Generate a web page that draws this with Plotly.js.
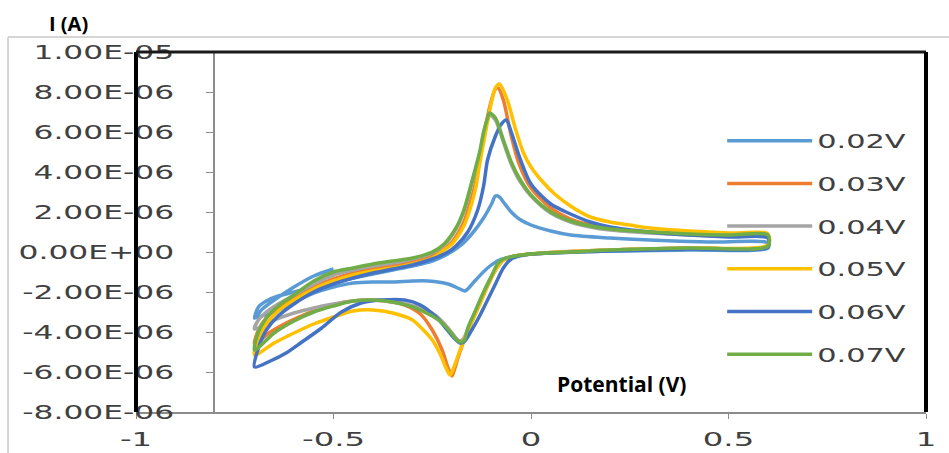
<!DOCTYPE html>
<html>
<head>
<meta charset="utf-8">
<script src="https://cdn.plot.ly/plotly-3.0.1.min.js"></script>
<style>html,body{margin:0;padding:0;background:#fff;}#chart{width:949px;height:453px;}</style>
</head>
<body>
<div id="chart"></div>
<script>
// ---- data (current in microamperes, potential in volts) ----
const seriesNames = ['0.02V', '0.03V', '0.04V', '0.05V', '0.06V', '0.07V'];
const seriesColors = ['#5B9BD5', '#ED7D31', '#A5A5A5', '#FFC000', '#4472C4', '#70AD47'];

const x002 = [-0.5,-0.55,-0.6,-0.65,-0.68,-0.7,-0.69,-0.67,-0.64,-0.6,-0.55,-0.5,-0.45,-0.4,-0.35,-0.3,-0.25,-0.22,-0.18,-0.15,-0.12,-0.1,-0.09,-0.08,-0.07,-0.05,-0.03,0,0.05,0.1,0.2,0.3,0.45,0.6,
  0.6,0.4,0.2,0,-0.04,-0.08,-0.11,-0.14,-0.16,-0.168,-0.18,-0.21,-0.26,-0.3,-0.35,-0.4,-0.45,-0.5,-0.55,-0.6,-0.65,-0.7];
const y002 = [-0.85,-1.2,-1.75,-2.4,-2.85,-3.3,-2.75,-2.45,-2.2,-2.0,-1.75,-1.5,-1.3,-1.1,-0.9,-0.7,-0.45,-0.2,0.3,0.9,1.7,2.4,2.8,2.75,2.5,2.0,1.65,1.35,1.05,0.85,0.7,0.6,0.5,0.45,
  0.2,0.1,0.05,-0.1,-0.2,-0.4,-0.8,-1.4,-1.85,-1.95,-1.85,-1.6,-1.45,-1.45,-1.5,-1.5,-1.55,-1.75,-2.05,-2.5,-3.0,-3.3];

const x003 = [-0.7,-0.69,-0.67,-0.64,-0.6,-0.55,-0.5,-0.45,-0.4,-0.35,-0.3,-0.25,-0.22,-0.2,-0.17,-0.155,-0.14,-0.13,-0.115,-0.1,-0.09,-0.083,-0.07,-0.05,-0.03,0,0.05,0.1,0.15,0.2,0.3,0.4,0.5,0.6,
  0.6,0.4,0.2,0,-0.04,-0.07,-0.09,-0.11,-0.13,-0.15,-0.17,-0.185,-0.195,-0.2,-0.21,-0.225,-0.25,-0.28,-0.32,-0.37,-0.42,-0.47,-0.52,-0.57,-0.62,-0.66,-0.7];
const y003 = [-4.6,-3.9,-3.3,-2.75,-2.25,-1.75,-1.35,-1.05,-0.85,-0.7,-0.5,-0.2,0.15,0.5,1.5,2.4,3.5,4.7,6.3,7.6,8.15,8.2,7.6,5.8,4.4,3.2,2.2,1.65,1.35,1.15,1.0,0.9,0.85,0.8,
  0.3,0.2,0.1,-0.1,-0.2,-0.4,-0.9,-1.7,-2.6,-3.5,-4.45,-5.3,-5.95,-6.2,-5.8,-4.9,-3.9,-3.1,-2.65,-2.45,-2.4,-2.5,-2.75,-3.1,-3.55,-4.0,-4.6];

const x004 = [-0.7,-0.69,-0.67,-0.64,-0.6,-0.55,-0.5,-0.45,-0.4,-0.35,-0.3,-0.25,-0.22,-0.19,-0.17,-0.15,-0.13,-0.12,-0.11,-0.104,-0.09,-0.07,-0.05,-0.03,0,0.05,0.1,0.15,0.2,0.3,0.4,0.5,0.6,
  0.6,0.4,0.2,0,-0.04,-0.07,-0.09,-0.11,-0.13,-0.15,-0.17,-0.18,-0.19,-0.21,-0.24,-0.28,-0.33,-0.4,-0.45,-0.5,-0.55,-0.6,-0.65,-0.7];
const y004 = [-3.85,-3.4,-3.0,-2.6,-2.15,-1.6,-1.15,-0.9,-0.7,-0.55,-0.35,-0.05,0.35,1.15,2.0,3.4,4.9,5.9,6.6,6.85,6.6,5.5,4.4,3.6,2.8,1.95,1.5,1.25,1.1,0.95,0.85,0.8,0.8,
  0.3,0.2,0.1,-0.1,-0.2,-0.4,-0.9,-1.6,-2.5,-3.4,-4.3,-4.45,-4.3,-3.8,-3.2,-2.8,-2.55,-2.4,-2.45,-2.6,-2.8,-3.05,-3.4,-3.85];

const x005 = [-0.7,-0.69,-0.67,-0.64,-0.6,-0.55,-0.5,-0.45,-0.4,-0.35,-0.3,-0.25,-0.22,-0.2,-0.17,-0.155,-0.14,-0.13,-0.115,-0.1,-0.09,-0.08,-0.06,-0.04,-0.02,0,0.03,0.06,0.1,0.15,0.2,0.25,0.3,0.4,0.5,0.6,
  0.6,0.4,0.2,0,-0.04,-0.07,-0.09,-0.11,-0.13,-0.15,-0.17,-0.185,-0.198,-0.205,-0.215,-0.23,-0.25,-0.28,-0.3,-0.35,-0.4,-0.45,-0.5,-0.55,-0.6,-0.65,-0.7];
const y005 = [-5.15,-4.3,-3.6,-2.95,-2.4,-1.85,-1.45,-1.15,-0.95,-0.8,-0.6,-0.3,0.1,0.4,1.3,2.1,3.2,4.4,6.0,7.5,8.2,8.4,7.6,6.2,5.0,4.25,3.5,2.9,2.3,1.75,1.5,1.35,1.2,1.05,0.95,0.9,
  0.35,0.2,0.1,-0.1,-0.2,-0.4,-0.9,-1.7,-2.6,-3.5,-4.4,-5.2,-5.9,-6.15,-5.8,-5.1,-4.4,-3.75,-3.4,-3.05,-2.9,-2.95,-3.25,-3.6,-4.05,-4.55,-5.15];

const x006 = [-0.7,-0.69,-0.67,-0.64,-0.6,-0.55,-0.5,-0.45,-0.4,-0.35,-0.3,-0.25,-0.21,-0.19,-0.16,-0.135,-0.12,-0.11,-0.09,-0.075,-0.063,-0.05,-0.03,0,0.05,0.1,0.15,0.2,0.3,0.4,0.5,0.6,
  0.6,0.4,0.2,0.05,0,-0.03,-0.05,-0.07,-0.09,-0.11,-0.13,-0.15,-0.17,-0.18,-0.195,-0.22,-0.24,-0.28,-0.32,-0.38,-0.43,-0.48,-0.53,-0.58,-0.62,-0.66,-0.7];
const y006 = [-5.75,-4.8,-3.9,-3.2,-2.6,-2.0,-1.6,-1.3,-1.05,-0.85,-0.65,-0.35,0.0,0.3,1.0,2.1,3.3,4.6,5.8,6.4,6.6,6.0,4.8,3.4,2.4,1.9,1.5,1.25,1.0,0.85,0.75,0.7,
  0.25,0.15,0.05,-0.05,-0.1,-0.2,-0.35,-0.8,-1.6,-2.4,-3.2,-3.9,-4.5,-4.55,-4.3,-3.7,-3.25,-2.65,-2.4,-2.4,-2.55,-3.0,-3.8,-4.5,-5.05,-5.45,-5.75];

const x007 = [-0.7,-0.69,-0.67,-0.64,-0.6,-0.55,-0.5,-0.45,-0.4,-0.35,-0.3,-0.25,-0.22,-0.19,-0.17,-0.15,-0.13,-0.12,-0.11,-0.105,-0.09,-0.07,-0.05,-0.03,0,0.05,0.1,0.15,0.2,0.3,0.4,0.5,0.6,
  0.6,0.4,0.2,0.1,0,-0.04,-0.07,-0.085,-0.1,-0.12,-0.14,-0.16,-0.17,-0.18,-0.19,-0.2,-0.225,-0.25,-0.3,-0.35,-0.4,-0.45,-0.5,-0.55,-0.6,-0.65,-0.7];
const y007 = [-4.9,-4.0,-3.3,-2.7,-2.15,-1.45,-1.0,-0.8,-0.6,-0.45,-0.3,0.0,0.4,1.2,2.1,3.5,5.0,6.0,6.7,6.95,6.7,5.6,4.5,3.7,2.85,2.0,1.55,1.3,1.15,1.0,0.9,0.85,0.85,
  0.3,0.2,0.1,0.0,-0.1,-0.2,-0.35,-0.6,-1.2,-2.0,-2.9,-3.8,-4.45,-4.5,-4.35,-4.1,-3.55,-3.2,-2.75,-2.5,-2.4,-2.45,-2.7,-3.0,-3.45,-4.05,-4.9];

const seriesX = [x002, x003, x004, x005, x006, x007];
const seriesY = [y002, y003, y004, y005, y006, y007];

const xTickVals = [-1, -0.5, 0, 0.5, 1];
const xTickText = ['-1', '-0.5', '0', '0.5', '1'];
const yTickVals = [-8, -6, -4, -2, 0, 2, 4, 6, 8, 10];
const yTickText = ['-8.00E-06', '-6.00E-06', '-4.00E-06', '-2.00E-06', '0.00E+00', '2.00E-06', '4.00E-06', '6.00E-06', '8.00E-06', '1.00E-05'];

// ---- chart ----
const tickFont = {family: 'DejaVu Sans', size: 19, color: '#404040'};
const traces = seriesNames.map((name, i) => ({
  type: 'scatter', mode: 'lines', name: name,
  x: seriesX[i], y: seriesY[i],
  legendgroup: 'g' + i,
  line: {color: seriesColors[i], width: 3.5, shape: 'spline', smoothing: 0.8}
}));

const layout = {
  width: 949, height: 453,
  margin: {l: 136, r: 23, t: 52, b: 41},
  paper_bgcolor: '#ffffff', plot_bgcolor: '#ffffff',
  showlegend: true,
  legend: {
    x: 0.742, xanchor: 'left', y: 0.806, yanchor: 'top',
    bgcolor: 'rgba(0,0,0,0)', font: tickFont,
    traceorder: 'grouped', tracegroupgap: 15, itemwidth: 85
  },
  xaxis: {
    range: [-1, 1], tickvals: xTickVals, ticktext: xTickText,
    showline: true, linecolor: '#8c8c8c', linewidth: 1.5,
    ticks: 'outside', ticklen: 5, tickcolor: '#8c8c8c',
    showgrid: false, zeroline: false, tickfont: tickFont, ticklabelstandoff: 5
  },
  yaxis: {
    range: [-8, 10], tickvals: yTickVals, ticktext: yTickText,
    anchor: 'free', position: 0.0975,
    showline: true, linecolor: '#8c8c8c', linewidth: 1.5,
    ticks: 'outside', ticklen: 7, tickcolor: '#8c8c8c',
    showgrid: false, zeroline: false, tickfont: tickFont, ticklabelstandoff: 28
  },
  shapes: [
    {type: 'line', xref: 'paper', yref: 'paper', x0: 0, x1: 0, y0: 0, y1: 1, line: {color: '#000000', width: 4}},
    {type: 'line', xref: 'paper', yref: 'paper', x0: 0, x1: 1, y0: 1, y1: 1, line: {color: '#1a1a1a', width: 3}},
    {type: 'line', xref: 'paper', yref: 'paper', x0: 1, x1: 1, y0: 0, y1: 1, line: {color: '#000000', width: 4}},
    {type: 'line', xref: 'paper', yref: 'paper', x0: -0.162, x1: 1.03, y0: 1.042, y1: 1.042, line: {color: '#c8c8c8', width: 1.5}},
    {type: 'line', xref: 'paper', yref: 'paper', x0: -0.162, x1: -0.162, y0: -0.12, y1: 1.042, line: {color: '#c8c8c8', width: 1.5}}
  ],
  annotations: [
    {text: 'I (A)', xref: 'paper', yref: 'paper', x: -0.086, y: 1.078, showarrow: false,
     xanchor: 'center', yanchor: 'middle', font: {family: 'Open Sans', size: 20, color: '#000000', weight: 700}},
    {text: 'Potential (V)', xref: 'paper', yref: 'paper', x: 0.614, y: 0.078, showarrow: false,
     xanchor: 'center', yanchor: 'middle', font: {family: 'Open Sans', size: 21, color: '#000000', weight: 700}}
  ]
};

function stretchText(selector, factor, mode) {
  document.querySelectorAll(selector).forEach(el => {
    let bb;
    try { bb = el.getBBox(); } catch (e) { return; }
    let p = bb.x;
    if (mode === 'end') p = bb.x + bb.width;
    else if (mode === 'middle') p = bb.x + bb.width / 2;
    const t = el.getAttribute('transform') || '';
    el.setAttribute('transform', t + ' translate(' + p + ',0) scale(' + factor + ',1) translate(' + (-p) + ',0)');
  });
}

Plotly.newPlot('chart', traces, layout, {staticPlot: true}).then(() => {
  stretchText('g.ytick text', 1.65, 'end');
  stretchText('g.xtick text', 1.7, 'middle');
  stretchText('text.legendtext', 1.6, 'start');
  document.querySelectorAll('.legend [clip-path]').forEach(e => e.removeAttribute('clip-path'));
});
</script>
</body>
</html>
